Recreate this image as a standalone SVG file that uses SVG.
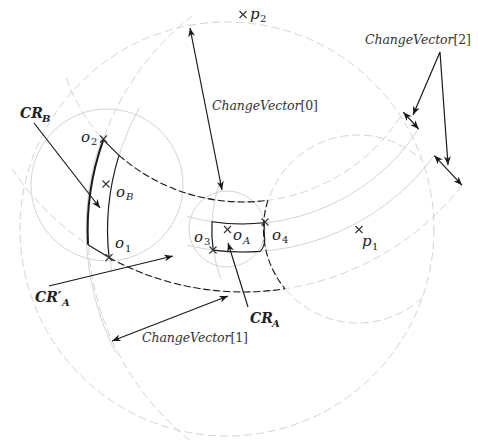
<svg xmlns="http://www.w3.org/2000/svg" width="478" height="442" viewBox="0 0 478 442">
<style>
.gs{fill:none;stroke:#d4d4d4;stroke-width:1}
.gd{fill:none;stroke:#d4d4d4;stroke-width:1;stroke-dasharray:8 4}
.bd{fill:none;stroke:#1a1a1a;stroke-width:1.1;stroke-dasharray:7 3}
.bs{fill:none;stroke:#1a1a1a;stroke-width:1.1}
.bt{fill:none;stroke:#1a1a1a;stroke-width:2}
.ar{fill:none;stroke:#1a1a1a;stroke-width:1.2;marker-end:url(#ah)}
.ar2{fill:none;stroke:#1a1a1a;stroke-width:1.2;marker-end:url(#ah);marker-start:url(#ah)}
.xm{fill:none;stroke:#333;stroke-width:1.1}
.cv{font-family:"DejaVu Serif",serif;font-size:12.5px;fill:#333}
.it{font-style:italic}
.lab{font-family:"DejaVu Serif",serif;font-style:italic;font-size:15px;fill:#222}
.sub{font-family:"DejaVu Serif",serif;font-size:10px;fill:#222}
.cr{font-family:"DejaVu Serif",serif;font-style:italic;font-weight:bold;font-size:14px;fill:#222}
.crs{font-family:"DejaVu Serif",serif;font-style:italic;font-weight:bold;font-size:10px;fill:#222}
</style>
<defs>
<marker id="ah" viewBox="0 0 10 8" refX="10" refY="4" markerWidth="9" markerHeight="7" markerUnits="userSpaceOnUse" orient="auto-start-reverse">
<path d="M0,0 L10,4 L0,8 L3,4 z" fill="#1a1a1a"/>
</marker>
<path id="xx" d="M-3.5,-3.5 L3.5,3.5 M-3.5,3.5 L3.5,-3.5"/>
</defs>

<g id="guides">
<circle class="gd" cx="227" cy="229" r="207"/>
<circle class="gs" cx="227" cy="229" r="38"/>
<circle class="gs" cx="107" cy="185" r="76"/>
<path class="gd" d="M422.3 297.5 A94 94 0 1 1 422.3 160.5"/>
<path class="gs" d="M220.8 278.9 A146 146 0 0 1 220.8 179.1"/>
<path class="gs" d="M111.8 272.4 A250 250 0 0 1 139.3 107.8"/>
<path class="gd" d="M199.3 447.4 A270 270 0 0 1 191.8 16.2"/>
<path class="gs" d="M115.6 352.5 A272 272 0 0 1 102.4 136"/>
<path class="gd" d="M66.3 78.3 A188 188 0 0 0 403.3 112.2"/>
<path class="gs" d="M186.9 216.4 A210 210 0 0 0 418.7 129"/>
<path class="gs" d="M187 245.3 A238 238 0 0 0 434.3 155.6"/>
<path class="gd" d="M12 168.7 A278 278 0 0 0 462 185.2"/>
</g>

<g id="CR_B">
<path class="bs" d="M103.3 139.8 L119 155.3 A250 250 0 0 0 109 257.5 L88 244.8"/>
<path class="bt" d="M88 244.8 A270 270 0 0 1 103.3 139.8"/>
</g>

<g id="CR_A_prime">
<path class="bd" d="M119 155.3 A188 188 0 0 0 267.9 200.3"/>
<path class="bd" d="M109 257.5 A278 278 0 0 0 285 288.8"/>
<path class="bd" d="M267.9 200.3 A94 94 0 0 0 285 288.8"/>
</g>

<g id="CR_A">
<path class="bs" d="M212 221.7 A210 210 0 0 0 264.3 222.8 A94 94 0 0 0 264.8 240 Q264 248 260 251.4 A238 238 0 0 1 213.2 250.1 A146 146 0 0 1 212 221.7 Z"/>
</g>

<g id="points">
<use href="#xx" class="xm" x="103.5" y="139"/>
<use href="#xx" class="xm" x="106" y="184"/>
<use href="#xx" class="xm" x="109" y="257.5"/>
<use href="#xx" class="xm" x="213" y="250"/>
<use href="#xx" class="xm" x="227.5" y="229.5"/>
<use href="#xx" class="xm" x="265" y="222"/>
<use href="#xx" class="xm" x="359" y="229.5"/>
<use href="#xx" class="xm" x="243" y="14.5"/>
</g>

<g id="connectors">
<path class="ar" d="M34 123 L100 208"/>
<path class="ar" d="M49 286 L173 256"/>
<path class="ar" d="M248 307 L228 243"/>
<path class="ar2" d="M190 28 L222 190"/>
<path class="ar2" d="M112 341 L228 296"/>
<path class="ar2" d="M413 115 L440 52 L448 165"/>
<path class="ar2" d="M403.3 112.2 L418.7 129"/>
<path class="ar2" d="M434.3 155.6 L462 185.2"/>
</g>

<g id="labels">
<text class="cv" x="212" y="110" textLength="106"><tspan class="it">ChangeVector</tspan>[0]</text>
<text class="cv" x="365" y="44" textLength="106"><tspan class="it">ChangeVector</tspan>[2]</text>
<text class="cv" x="142" y="342" textLength="106"><tspan class="it">ChangeVector</tspan>[1]</text>
<text class="lab" x="250" y="19">p</text><text class="sub" x="260" y="22">2</text>
<text class="lab" x="362" y="246">p</text><text class="sub" x="372" y="250">1</text>
<text class="lab" x="81" y="142">o</text><text class="sub" x="91" y="145">2</text>
<text class="lab" x="116" y="197">o</text><text class="sub it" x="126" y="200">B</text>
<text class="lab" x="115" y="248">o</text><text class="sub" x="125" y="252">1</text>
<text class="lab" x="194" y="242">o</text><text class="sub" x="204" y="245">3</text>
<text class="lab" x="233" y="240">o</text><text class="sub it" x="243" y="244">A</text>
<text class="lab" x="272" y="240">o</text><text class="sub" x="282" y="243">4</text>
<text class="cr" x="20" y="118">CR</text><text class="crs" x="42" y="122">B</text>
<text class="cr" x="35" y="302">CR′</text><text class="crs" x="62" y="306">A</text>
<text class="cr" x="250" y="323">CR</text><text class="crs" x="272" y="327">A</text>
</g>
</svg>
